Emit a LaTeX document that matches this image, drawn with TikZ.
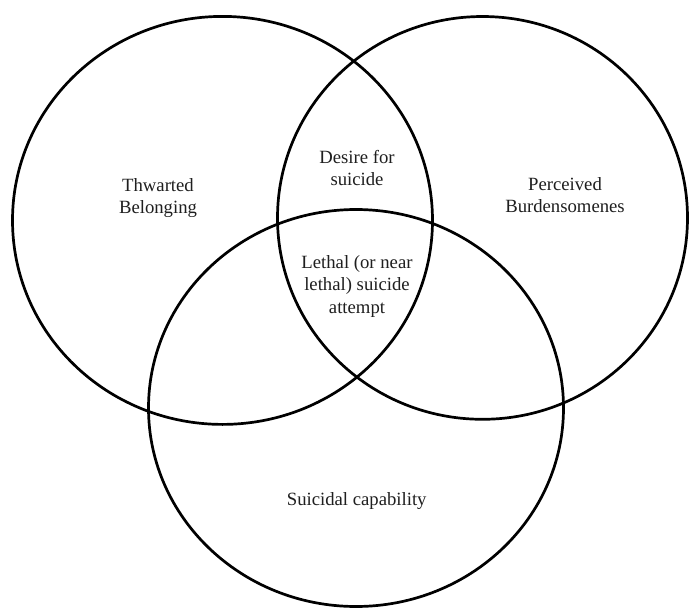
\documentclass[tikz,border=0pt]{standalone}
\usepackage{fontspec}
\setmainfont{Liberation Serif}
\begin{document}
\begin{tikzpicture}[x=1pt,y=-1pt,
  ring/.style={line width=2.7pt,draw=black},
  lbl/.style={align=center,inner sep=0pt,anchor=base,text=black!88,font=\fontsize{18.7}{22.5}\selectfont}]
\useasboundingbox (0,0) rectangle (689,608);
\fill[white] (0,0) rectangle (689,608);
\draw[ring] (222.5,220.4) ellipse [x radius=210pt, y radius=204pt];
\draw[ring] (482.5,217.9) ellipse [x radius=205pt, y radius=201.4pt];
\draw[ring] (356,408) ellipse [x radius=207.5pt, y radius=198.5pt];
\node[lbl] (tb) at (158,213.5) {Thwarted\\Belonging};
\node[lbl] (ds) at (357,185.8) {Desire for\\suicide};
\node[lbl] (pb) at (565,212.5) {Perceived\\Burdensomenes};
\node[lbl] (la) at (357,313) {Lethal (or near\\lethal) suicide\\attempt};
\node[lbl] (sc) at (356.7,505.7) {Suicidal capability};
\end{tikzpicture}
\end{document}
